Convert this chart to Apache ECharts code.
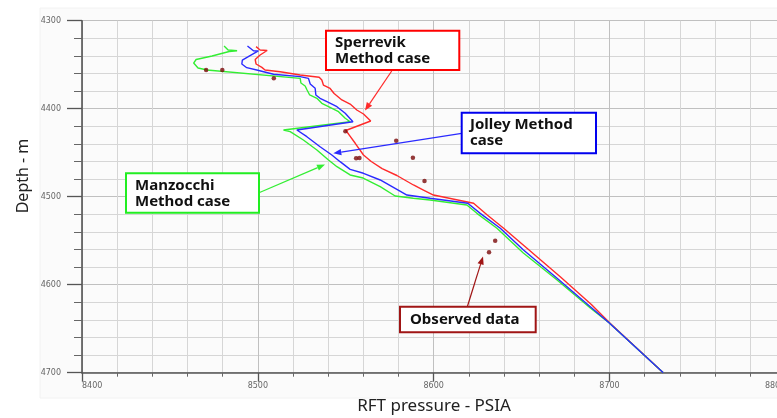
<!DOCTYPE html>
<html>
<head>
<meta charset="utf-8">
<script src="https://cdn.jsdelivr.net/npm/echarts@6/dist/echarts.min.js"></script>
<style>
html,body{margin:0;padding:0;background:#fff;}
#chart{width:777px;height:418px;}
</style>
</head>
<body>
<div id="chart"></div>
<script>
// ---- Data (pressure in PSIA, depth in m) ----
const xTicks = [8400, 8500, 8600, 8700, 8800];
const yTicks = [4300, 4400, 4500, 4600, 4700];

const sperrevikP = [8499.0, 8501.3, 8505.3, 8501.3, 8498.5, 8499.0, 8502.3, 8504.1, 8512.7, 8524.1, 8534.9, 8536.4, 8537.3, 8541.1, 8543.4, 8547.8, 8552.5, 8556.3, 8560.1, 8564.2, 8550.0, 8551.6, 8555.4, 8560.1, 8564.5, 8570.7, 8579.1, 8588.5, 8594.2, 8599.9, 8622.7, 8630.5, 8639.8, 8653.1, 8672.0, 8689.7, 8699.9, 8730.6];
const sperrevikD = [4329.5, 4333.3, 4333.9, 4339.0, 4344.1, 4349.2, 4353.0, 4356.0, 4358.0, 4361.7, 4364.3, 4367.4, 4373.1, 4377.0, 4382.7, 4390.1, 4394.7, 4401.5, 4406.0, 4414.0, 4424.8, 4428.8, 4439.3, 4452.6, 4460.0, 4468.0, 4475.9, 4486.7, 4492.4, 4498.1, 4507.5, 4520.8, 4535.9, 4558.6, 4590.9, 4622.5, 4643.0, 4700.0];

const jolleyP = [8494.1, 8497.5, 8500.3, 8494.6, 8491.2, 8490.9, 8493.7, 8499.4, 8508.9, 8524.1, 8528.8, 8529.8, 8532.6, 8533.0, 8535.4, 8539.3, 8545.0, 8549.7, 8554.1, 8522.2, 8527.9, 8535.4, 8542.1, 8546.8, 8552.5, 8560.1, 8569.6, 8578.1, 8584.8, 8598.0, 8619.4, 8626.5, 8637.9, 8651.1, 8670.2, 8689.1, 8699.9, 8730.6];
const jolleyD = [4328.8, 4334.1, 4334.4, 4340.9, 4344.7, 4349.2, 4353.4, 4356.0, 4360.9, 4363.6, 4365.5, 4371.9, 4376.8, 4384.4, 4388.2, 4392.0, 4397.7, 4405.2, 4414.8, 4424.2, 4431.8, 4443.2, 4452.6, 4460.2, 4468.9, 4473.4, 4481.0, 4490.5, 4498.1, 4501.8, 4507.5, 4518.9, 4535.9, 4560.6, 4592.7, 4625.0, 4643.5, 4700.0];

const manzocchiP = [8480.8, 8483.1, 8488.2, 8483.7, 8474.0, 8464.9, 8463.5, 8466.0, 8471.1, 8524.1, 8524.5, 8526.9, 8528.0, 8529.5, 8533.6, 8536.4, 8540.2, 8545.9, 8549.7, 8552.5, 8514.6, 8518.4, 8525.9, 8533.6, 8540.2, 8545.0, 8552.5, 8559.9, 8569.6, 8578.1, 8588.4, 8598.0, 8618.9, 8624.6, 8636.0, 8651.0, 8670.2, 8689.1, 8699.9, 8730.6];
const manzocchiD = [4328.8, 4333.3, 4334.1, 4335.0, 4340.1, 4344.1, 4348.1, 4353.8, 4356.0, 4365.5, 4370.8, 4374.2, 4378.8, 4384.4, 4388.2, 4393.9, 4397.7, 4403.4, 4410.9, 4414.8, 4424.2, 4426.1, 4435.6, 4446.9, 4458.3, 4465.9, 4475.3, 4478.8, 4488.6, 4499.2, 4501.8, 4503.8, 4509.4, 4518.9, 4535.9, 4564.0, 4594.7, 4626.5, 4643.5, 4700.0];

const observedP = [8470.6, 8479.8, 8509.1, 8549.8, 8578.7, 8555.9, 8557.8, 8588.2, 8594.8, 8635.0, 8631.5];
const observedD = [4356.0, 4356.0, 4365.5, 4425.7, 4436.4, 4456.4, 4456.0, 4455.7, 4482.2, 4550.0, 4563.2];

const zip = (a, b) => a.map((v, i) => [v, b[i]]);

// ---- Annotation layout (pixels) ----
function arrow(x1, y1, x2, y2, color) {
  const ang = Math.atan2(y2 - y1, x2 - x1);
  const L = 8, W = 3.2;
  const bx = x2 - L * Math.cos(ang), by = y2 - L * Math.sin(ang);
  const px = -Math.sin(ang) * W, py = Math.cos(ang) * W;
  return [
    { type: 'line', z: 100, shape: { x1: x1, y1: y1, x2: bx, y2: by }, style: { stroke: color, lineWidth: 1.2 } },
    { type: 'polygon', z: 100, shape: { points: [[x2, y2], [bx + px, by + py], [bx - px, by - py]] }, style: { fill: color } }
  ];
}
function box(x, y, w, h, color, text, tx, ty) {
  return [
    { type: 'rect', z: 100, shape: { x: x, y: y, width: w, height: h }, style: { fill: '#fff', stroke: color, lineWidth: 2 } },
    { type: 'text', z: 101, x: tx, y: ty, style: { text: text, fill: '#111', font: 'bold 15px "Noto Sans"', lineHeight: 16, verticalAlign: 'middle', align: 'left' } }
  ];
}

const graphics = [].concat(
  [{ type: 'rect', z: -10, silent: true, shape: { x: 40, y: 8, width: 740, height: 390 }, style: { fill: '#fbfbfb', stroke: '#f2f2f2', lineWidth: 1 } }],
  arrow(391.7, 71, 365, 110.5, '#ff2a2a'),
  box(326, 30.7, 133.3, 39.3, '#ff0000', 'Sperrevik\nMethod case', 335, 51),
  arrow(461.7, 133.3, 333.3, 153.3, '#2a2aff'),
  box(461.7, 112.7, 134.3, 40.6, '#0000ee', 'Jolley Method\ncase', 470, 133),
  arrow(259, 192.7, 325, 164.5, '#33ee33'),
  box(126, 173.3, 133, 39.4, '#22ee22', 'Manzocchi\nMethod case', 135, 193.5),
  arrow(467.3, 306.7, 483, 256.5, '#a01515'),
  box(400, 306.7, 135.7, 25.6, '#a01515', 'Observed data', 410, 320),
  [
    { type: 'text', z: 50, x: 23, y: 176, rotation: Math.PI / 2, style: { text: 'Depth - m', fill: '#222', font: '16px "Noto Sans"', align: 'center', verticalAlign: 'middle' } },
    { type: 'text', z: 50, x: 434, y: 406, style: { text: 'RFT pressure - PSIA', fill: '#222', font: '17px "Noto Sans"', align: 'center', verticalAlign: 'middle' } }
  ]
);

const plain = (v) => String(v);

const chart = echarts.init(document.getElementById('chart'), null, { renderer: 'canvas' });
chart.setOption({
  animation: false,
  backgroundColor: '#ffffff',
  grid: { left: 82, top: 20.7, width: 703.3, height: 352, containLabel: false, outerBoundsMode: 'none' },
  xAxis: {
    type: 'value', min: xTicks[0], max: xTicks[xTicks.length - 1], interval: 100,
    axisLine: { show: true, onZero: false, lineStyle: { color: '#555', width: 1.6 } },
    axisTick: { show: true, length: 9, lineStyle: { color: '#555', width: 1.3 } },
    minorTick: { show: true, splitNumber: 5, length: 4, lineStyle: { color: '#666', width: 1 } },
    axisLabel: { color: '#666', fontSize: 8, fontFamily: 'DejaVu Sans', margin: 9, formatter: plain, alignMinLabel: 'left', alignMaxLabel: 'right' },
    splitLine: { show: true, lineStyle: { color: '#c0c0c0', width: 1 } },
    minorSplitLine: { show: true, lineStyle: { color: '#d6d6d6', width: 1 } }
  },
  yAxis: {
    type: 'value', inverse: true, min: yTicks[0], max: yTicks[yTicks.length - 1], interval: 100,
    axisLine: { show: true, onZero: false, lineStyle: { color: '#555', width: 1.6 } },
    axisTick: { show: true, length: 15, lineStyle: { color: '#555', width: 1.3 } },
    minorTick: { show: true, splitNumber: 5, length: 8, lineStyle: { color: '#666', width: 1 } },
    axisLabel: { color: '#666', fontSize: 8, fontFamily: 'DejaVu Sans', margin: 21, formatter: plain },
    splitLine: { show: true, lineStyle: { color: '#c0c0c0', width: 1 } },
    minorSplitLine: { show: true, lineStyle: { color: '#d6d6d6', width: 1 } }
  },
  series: [
    { name: 'Sperrevik', type: 'line', data: zip(sperrevikP, sperrevikD), showSymbol: false, symbol: 'none', lineStyle: { color: '#ff2a2a', width: 1.4 }, z: 3 },
    { name: 'Manzocchi', type: 'line', data: zip(manzocchiP, manzocchiD), showSymbol: false, symbol: 'none', lineStyle: { color: '#33ee33', width: 1.4 }, z: 4 },
    { name: 'Jolley', type: 'line', data: zip(jolleyP, jolleyD), showSymbol: false, symbol: 'none', lineStyle: { color: '#2a2aff', width: 1.4 }, z: 5 },
    { name: 'Observed', type: 'scatter', data: zip(observedP, observedD), symbol: 'circle', symbolSize: 4.5, itemStyle: { color: '#7a0a0a' }, z: 6 }
  ],
  graphic: graphics
});
</script>
</body>
</html>
